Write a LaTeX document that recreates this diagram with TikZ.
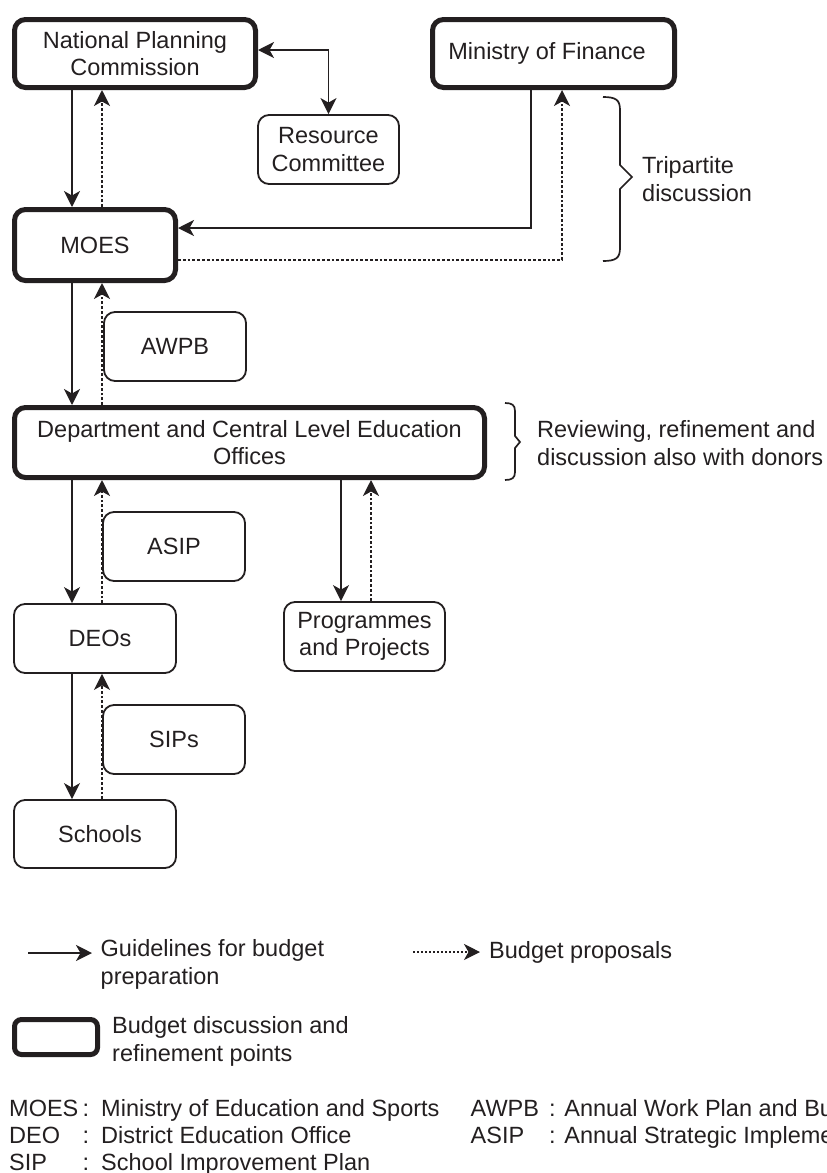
\documentclass[tikz,border=0pt]{standalone}
\usepackage{fontspec}
\setmainfont{Liberation Sans}
\usetikzlibrary{arrows.meta}
\definecolor{ink}{HTML}{231F20}
\begin{document}
\begin{tikzpicture}[x=1pt,y=-1pt,
  every node/.style={font=\fontsize{23.5}{27.5}\selectfont, text=ink},
  thickbox/.style={draw=ink, line width=5pt, rounded corners=11pt, align=center, inner sep=0pt},
  thinbox/.style={draw=ink, line width=1.8pt, rounded corners=11pt, align=center, inner sep=0pt},
  guide/.style={draw=ink, line width=1.9pt, -{Stealth[length=16pt,width=16pt,inset=4.5pt]}},
  proposal/.style={draw=ink, line width=1.6pt, dash pattern=on 2.8pt off 2pt, -{Stealth[length=16pt,width=16pt,inset=4.5pt]}},
  brace/.style={draw=ink, line width=1.7pt},
  lbl/.style={align=left, inner sep=0pt, anchor=west},
  abbr/.style={inner sep=0pt, anchor=base west},
]
\useasboundingbox (0,0) rectangle (827,1173);
\clip (0,0) rectangle (827,1173);

% boxes
\node[thickbox, minimum width=241pt, minimum height=68pt] (npc) at (135,53.5) {National Planning\\Commission};
\node[thickbox, minimum width=242pt, minimum height=68pt] (mof) at (553.5,53.5) {Ministry of Finance\kern13pt};
\node[thinbox, minimum width=141pt, minimum height=69pt] (rc) at (328.5,149.5) {Resource\\Committee};
\node[thickbox, minimum width=161pt, minimum height=71pt] (moes) at (95,245) {MOES};
\node[thinbox, minimum width=142pt, minimum height=69pt] (awpb) at (175,346.5) {AWPB};
\node[thickbox, minimum width=470pt, minimum height=70pt] (dept) at (249.5,442.5) {Department and Central Level Education\\Offices};
\node[thinbox, minimum width=142pt, minimum height=69pt] (asip) at (174,546.5) {ASIP};
\node[thinbox, minimum width=162pt, minimum height=69pt] (deos) at (95,638.5) {\kern10pt DEOs};
\node[thinbox, minimum width=161pt, minimum height=69pt] (prog) at (364.5,636.5) {Programmes\\and Projects};
\node[thinbox, minimum width=142pt, minimum height=69pt] (sips) at (174,739.5) {SIPs};
\node[thinbox, minimum width=162pt, minimum height=68pt] (schools) at (95,834) {\kern10pt Schools};

% column coordinates
\coordinate (cA) at (72,0);
\coordinate (cD) at (102,0);
\coordinate (cP) at (341,0);
\coordinate (cPD) at (371,0);
\coordinate (cF) at (531,228);
\coordinate (cFD) at (562,260);

% connectors
\draw[draw=ink, line width=1.9pt, {Stealth[length=16pt,width=16pt,inset=4.5pt]}-{Stealth[length=16pt,width=16pt,inset=4.5pt]}]
  ([yshift=3.5pt]npc.east) -| (rc.north);
\draw[guide] (npc.south -| cA) -- (moes.north -| cA);
\draw[proposal] (moes.north -| cD) -- (npc.south -| cD);
\draw[guide] (mof.south -| cF) |- (moes.east |- cF);
\draw[proposal] (moes.east |- cFD) -| (mof.south -| cFD);
\draw[guide] (moes.south -| cA) -- (dept.north -| cA);
\draw[proposal] (dept.north -| cD) -- (moes.south -| cD);
\draw[guide] (dept.south -| cA) -- (deos.north -| cA);
\draw[proposal] (deos.north -| cD) -- (dept.south -| cD);
\draw[guide] (dept.south -| cP) -- (prog.north -| cP);
\draw[proposal] (prog.north -| cPD) -- (dept.south -| cPD);
\draw[guide] (deos.south -| cA) -- (schools.north -| cA);
\draw[proposal] (schools.north -| cD) -- (deos.south -| cD);

% braces
\draw[brace] (603,97) .. controls (616,97) and (620,100) .. (620,110) -- (620,165) -- (632,177) -- (620,189) -- (620,248) .. controls (620,258) and (616,261) .. (603,261);
\node[lbl] (tri) at (642,179) {Tripartite\\discussion};
\draw[brace] (505,403) .. controls (512,403) and (515,405) .. (515,411) -- (515,436) -- (520,442) -- (515,448) -- (515,472) .. controls (515,478) and (512,480) .. (505,480);
\node[lbl] (rev) at (537,443) {Reviewing, refinement and\\discussion also with donors};

% legend
\coordinate (l1a) at (28,953);
\coordinate (l1b) at (92,953);
\draw[guide] (l1a) -- (l1b);
\node[lbl] (l1t) at (100.5,964.5) {Guidelines for budget\\preparation};
\coordinate (l2a) at (413,952);
\coordinate (l2b) at (480,952);
\draw[proposal, line width=1.3pt, dash pattern=on 2pt off 2pt] (l2a) -- (l2b);
\node[lbl] (l2t) at (489,952) {Budget proposals};
\node[thickbox, minimum width=83pt, minimum height=35pt, rounded corners=7pt] (lbox) at (56,1037) {};
\node[lbl] (l3t) at (112,1041.5) {Budget discussion and\\refinement points};

% abbreviations
\node[abbr] (a1) at (9,1116) {MOES};
\node[abbr] (a1t) at (82.5,1116) {:\kern12pt Ministry of Education and Sports};
\node[abbr] (a2) at (9,1143) {DEO};
\node[abbr] (a2t) at (82.5,1143) {:\kern12pt District Education Office};
\node[abbr] (a3) at (9,1170) {SIP};
\node[abbr] (a3t) at (82.5,1170) {:\kern12pt School Improvement Plan};
\node[abbr] (a4) at (470.5,1116) {AWPB};
\node[abbr] (a4t) at (549,1116) {: Annual Work Plan and Budget};
\node[abbr] (a5) at (470.5,1143) {ASIP};
\node[abbr] (a5t) at (549,1143) {: Annual Strategic Implementation Plan};
\end{tikzpicture}
\end{document}
